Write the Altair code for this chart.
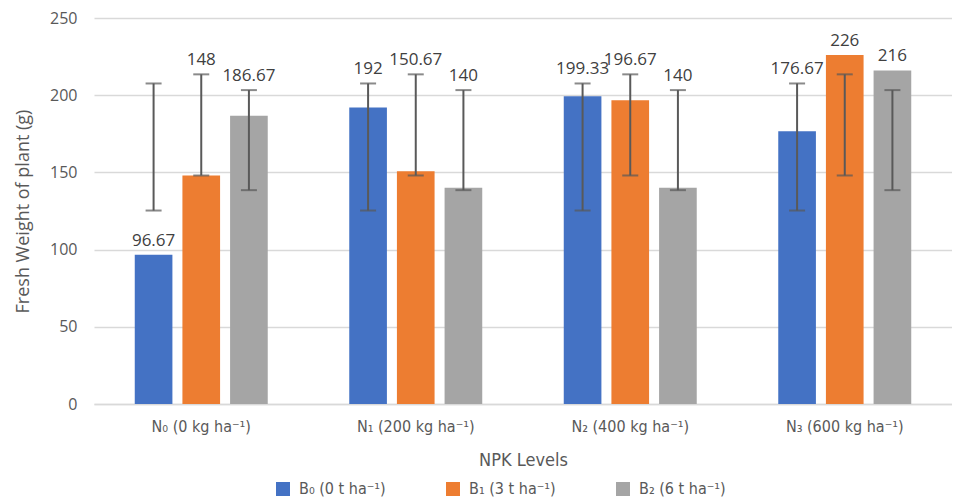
import altair as alt
import pandas as pd

groups = ["N₀ (0 kg ha⁻¹)", "N₁ (200 kg ha⁻¹)", "N₂ (400 kg ha⁻¹)", "N₃ (600 kg ha⁻¹)"]
series = ["B₀ (0 t ha⁻¹)", "B₁ (3 t ha⁻¹)", "B₂ (6 t ha⁻¹)"]
values = [
    [96.67, 148, 186.67],
    [192, 150.67, 140],
    [199.33, 196.67, 140],
    [176.67, 226, 216],
]
err_low = [125.3, 148.0, 138.5]
err_high = [207.6, 213.5, 203.3]
colors = ["#4472C4", "#ED7D31", "#A5A5A5"]

rows = []
for gi, g in enumerate(groups):
    for si, s in enumerate(series):
        rows.append({"group": g, "series": s, "value": values[gi][si],
                     "lo": err_low[si], "hi": err_high[si]})
df = pd.DataFrame(rows)

FONT = "Open Sans"
NARROW = "DejaVu Sans Condensed, Roboto, sans-serif"
TXT = "#595959"

x = alt.X("group:N", sort=groups, title="NPK Levels",
          scale=alt.Scale(paddingInner=0.38, paddingOuter=0.19),
          axis=alt.Axis(labelAngle=0, ticks=False, domainColor="#d9d9d9", domainWidth=1.5,
                        labelFont=NARROW, labelFontSize=16, labelColor=TXT, labelPadding=14,
                        titleFont=NARROW, titleFontSize=18, titleColor=TXT, titleFontWeight="normal",
                        titlePadding=17))
xo = alt.XOffset("series:N", sort=series, scale=alt.Scale(paddingInner=0.21))

base = alt.Chart(df)

bars = base.mark_bar().encode(
    x=x, xOffset=xo,
    y=alt.Y("value:Q", scale=alt.Scale(domain=[0, 250], nice=False), title="Fresh Weight of plant (g)",
            axis=alt.Axis(values=[0, 50, 100, 150, 200, 250], ticks=False, domain=False,
                          gridColor="#d9d9d9", gridWidth=1.5,
                          labelFont=FONT, labelFontSize=16, labelColor=TXT, labelPadding=17,
                          titleFont=FONT, titleFontSize=18, titleColor=TXT, titleFontWeight="normal",
                          titlePadding=17)),
    color=alt.Color("series:N", sort=series, scale=alt.Scale(domain=series, range=colors),
                    legend=alt.Legend(title=None, orient="none", direction="horizontal",
                                      legendX=181, legendY=463, symbolType="square",
                                      symbolSize=196, symbolStrokeWidth=0, labelFont=NARROW,
                                      labelFontSize=16, labelColor=TXT, columnPadding=59,
                                      labelOffset=8, symbolOpacity=1)),
)

rules = base.mark_rule(color="#595959", strokeWidth=2).encode(
    x=x, xOffset=xo, y="lo:Q", y2="hi:Q")
cap_lo = base.mark_tick(color="#595959", thickness=2, size=16, orient="horizontal").encode(
    x=x, xOffset=xo, y="lo:Q")
cap_hi = base.mark_tick(color="#595959", thickness=2, size=16, orient="horizontal").encode(
    x=x, xOffset=xo, y="hi:Q")

labels = base.transform_calculate(
    label_y="datum.value < datum.lo ? datum.value : max(datum.value, datum.hi)"
).mark_text(font=FONT, fontSize=17, color="#404040", baseline="bottom", dy=-5).encode(
    x=x, xOffset=xo, y="label_y:Q", text=alt.Text("value:Q", format="~f"))

chart = alt.layer(bars, rules, cap_lo, cap_hi, labels).properties(
    width=858, height=386,
    autosize=alt.AutoSizeParams(type="none"),
    padding={"left": 86, "top": 10, "right": 0, "bottom": 94},
).configure_view(stroke=None)

chart.save("out.html", embed_options={"renderer": "svg", "actions": False})
